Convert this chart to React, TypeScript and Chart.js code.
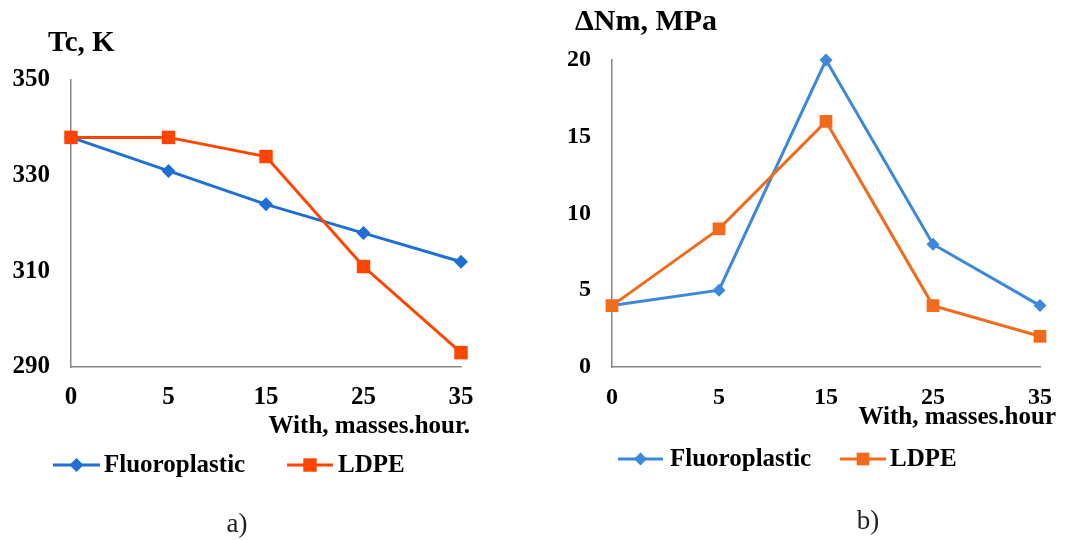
import React, { useEffect, useRef } from "react";
import { Chart, registerables } from "chart.js";

Chart.register(...registerables);

// ---------- data ----------
const categories = ["0", "5", "15", "25", "35"];
const seriesNames = ["Fluoroplastic", "LDPE"];
const tempFluoro = [338, 331, 324, 318, 312];
const tempLdpe = [338, 338, 334, 311, 293];
const stressFluoro = [4, 5, 20, 8, 4];
const stressLdpe = [4, 9, 16, 4, 2];
const tempTicks = [290, 310, 330, 350];
const stressTicks = [0, 5, 10, 15, 20];

const FONT = "'Liberation Serif', 'Times New Roman', serif";

function drawMarker(ctx: CanvasRenderingContext2D, style: string, x: number, y: number, r: number, color: string) {
  ctx.fillStyle = color;
  ctx.beginPath();
  if (style === "rectRot") {
    ctx.moveTo(x - r, y);
    ctx.lineTo(x, y - r);
    ctx.lineTo(x + r, y);
    ctx.lineTo(x, y + r);
    ctx.closePath();
  } else {
    const h = r * Math.SQRT1_2;
    ctx.rect(x - h, y - h, 2 * h, 2 * h);
  }
  ctx.fill();
}

const extrasPlugin = {
  id: "extras",
  afterDraw(chart: any, _args: any, opts: any) {
    const ctx: CanvasRenderingContext2D = chart.ctx;
    ctx.save();
    ctx.fillStyle = "#000";
    ctx.textBaseline = "middle";
    // y title
    ctx.font = `bold ${opts.yTitleSize}px ${FONT}`;
    ctx.textAlign = "left";
    ctx.fillText(opts.yTitle, opts.yTitleX, opts.yTitleY);
    // x title
    ctx.font = `bold 25px ${FONT}`;
    ctx.textAlign = "right";
    ctx.fillText(opts.xTitle, opts.xTitleX, opts.xTitleY);
    // legend
    chart.data.datasets.forEach((ds: any, i: number) => {
      const it = opts.legend[i];
      ctx.strokeStyle = ds.borderColor;
      ctx.lineWidth = 3;
      ctx.beginPath();
      ctx.moveTo(it.x0, opts.legendY);
      ctx.lineTo(it.x1, opts.legendY);
      ctx.stroke();
      drawMarker(ctx, ds.pointStyle, (it.x0 + it.x1) / 2, opts.legendY, ds.pointRadius, ds.borderColor);
      ctx.fillStyle = "#000";
      ctx.font = `bold 25px ${FONT}`;
      ctx.textAlign = "left";
      ctx.fillText(ds.label, it.tx, opts.legendY + 1);
    });
    // caption
    ctx.font = `27px ${FONT}`;
    ctx.textAlign = "center";
    ctx.fillStyle = "#222";
    ctx.fillText(opts.caption, opts.captionX, opts.captionY);
    ctx.restore();
  },
};

function makeConfig(p: any): any {
  const tickFont = { family: FONT, size: p.tickSize, weight: "bold" as const };
  const border = { display: true, color: "#868686", width: 1.5 };
  return {
    type: "line",
    data: {
      labels: categories,
      datasets: [
        {
          label: seriesNames[0],
          data: p.fluoro,
          borderColor: p.blue,
          backgroundColor: p.blue,
          pointBackgroundColor: p.blue,
          pointBorderColor: p.blue,
          pointBorderWidth: 0,
          pointStyle: "rectRot",
          pointRadius: p.diamondR,
          borderWidth: 3,
          tension: 0,
          clip: false,
          order: 1,
        },
        {
          label: seriesNames[1],
          data: p.ldpe,
          borderColor: p.orange,
          backgroundColor: p.orange,
          pointBackgroundColor: p.orange,
          pointBorderColor: p.orange,
          pointBorderWidth: 0,
          pointStyle: "rect",
          pointRadius: p.squareR,
          borderWidth: 3,
          tension: 0,
          clip: false,
          order: 0,
        },
      ],
    },
    options: {
      responsive: false,
      animation: false,
      layout: { padding: { top: p.top, right: p.right, bottom: 133, left: 0 } },
      scales: {
        x: {
          type: "category",
          offset: false,
          grid: { display: false, drawTicks: false },
          border,
          ticks: { color: "#000", font: tickFont, padding: 16, maxRotation: 0, autoSkip: false },
          afterFit(s: any) {
            s.height = 40;
          },
        },
        y: {
          min: p.yTicks[0],
          max: p.yTicks[p.yTicks.length - 1],
          grid: { display: false, drawTicks: false },
          border,
          ticks: { color: "#000", font: tickFont, padding: 21 },
          afterBuildTicks(s: any) {
            s.ticks = p.yTicks.map((v: number) => ({ value: v }));
          },
          afterFit(s: any) {
            s.width = p.yWidth;
          },
        },
      },
      plugins: {
        legend: { display: false },
        tooltip: { enabled: false },
        title: { display: false },
        extras: p.extras,
      },
    },
    plugins: [extrasPlugin],
  };
}

const configA = () =>
  makeConfig({
    fluoro: tempFluoro,
    ldpe: tempLdpe,
    yTicks: tempTicks,
    blue: "#1F6FD6",
    orange: "#FF4500",
    diamondR: 7,
    squareR: 9.5,
    tickSize: 25,
    top: 80,
    right: 69,
    yWidth: 71,
    extras: {
      yTitle: "Tc, K",
      yTitleSize: 29,
      yTitleX: 48,
      yTitleY: 44,
      xTitle: "With, masses.hour.",
      xTitleX: 470,
      xTitleY: 427,
      legendY: 465,
      legend: [
        { x0: 53, x1: 100, tx: 104 },
        { x0: 287, x1: 333, tx: 338 },
      ],
      caption: "a)",
      captionX: 237,
      captionY: 525,
    },
  });

const configB = () =>
  makeConfig({
    fluoro: stressFluoro,
    ldpe: stressLdpe,
    yTicks: stressTicks,
    blue: "#3D88DA",
    orange: "#F26A1C",
    diamondR: 6.5,
    squareR: 9,
    tickSize: 24,
    top: 60,
    right: 21,
    yWidth: 82,
    extras: {
      yTitle: "ΔNm, MPa",
      yTitleSize: 30,
      yTitleX: 45,
      yTitleY: 22,
      xTitle: "With, masses.hour",
      xTitleX: 526,
      xTitleY: 418,
      legendY: 459,
      legend: [
        { x0: 88, x1: 133, tx: 140 },
        { x0: 310, x1: 356, tx: 360 },
      ],
      caption: "b)",
      captionX: 338,
      captionY: 522,
    },
  });

function ChartCanvas({ makeCfg, left, width }: { makeCfg: () => any; left: number; width: number }) {
  const ref = useRef<HTMLCanvasElement | null>(null);
  useEffect(() => {
    if (!ref.current) return;
    const chart = new Chart(ref.current, makeCfg());
    return () => chart.destroy();
  }, []);
  return (
    <canvas
      ref={ref}
      width={width}
      height={540}
      style={{ position: "absolute", left, top: 0, width, height: 540 }}
    />
  );
}

export default function App() {
  return (
    <div
      style={{
        position: "fixed",
        left: 0,
        top: 0,
        width: 1068,
        height: 540,
        background: "#fff",
        overflow: "hidden",
      }}
    >
      <ChartCanvas makeCfg={configA} left={0} width={530} />
      <ChartCanvas makeCfg={configB} left={530} width={538} />
    </div>
  );
}
